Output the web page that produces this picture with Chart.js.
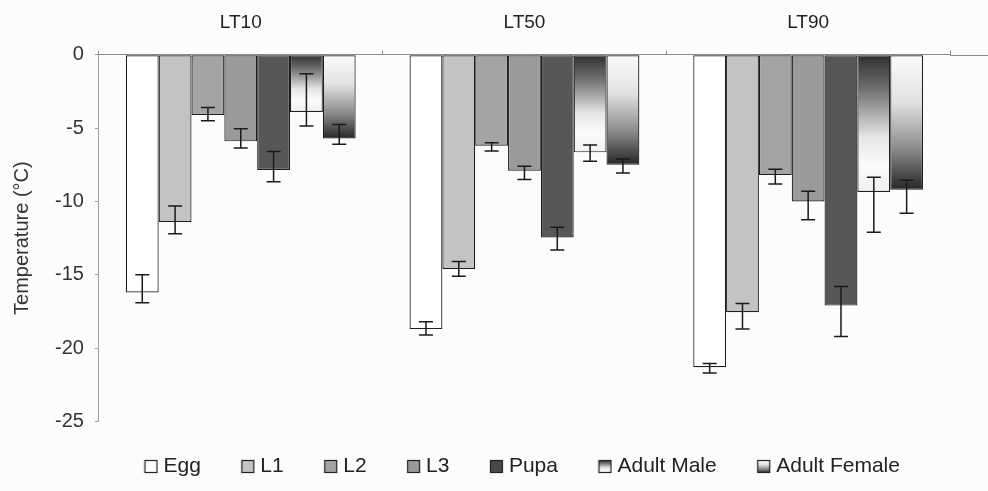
<!DOCTYPE html>
<html>
<head>
<meta charset="utf-8">
<script src="https://cdn.jsdelivr.net/npm/chart.js@4.4.1/dist/chart.umd.min.js"></script>
<style>
  html, body { margin: 0; padding: 0; background: #fcfcfc; }
  #wrap { width: 988px; height: 491px; position: relative; }
</style>
</head>
<body>
<div id="wrap"><canvas id="c" width="988" height="491"></canvas></div>
<script>
// ---- data ----
const categories = ['LT10', 'LT50', 'LT90'];
const stages = ['Egg', 'L1', 'L2', 'L3', 'Pupa', 'Adult Male', 'Adult Female'];
const yTicks = [0, -5, -10, -15, -20, -25];

const egg       = [-16.2, -18.7, -21.3];
const eggHi     = [-15.0, -18.2, -21.05];
const eggLo     = [-16.9, -19.1, -21.7];

const l1        = [-11.4, -14.6, -17.55];
const l1Hi      = [-10.3, -14.1, -16.95];
const l1Lo      = [-12.2, -15.1, -18.7];

const l2        = [-4.1, -6.2, -8.2];
const l2Hi      = [-3.6, -6.0, -7.8];
const l2Lo      = [-4.5, -6.55, -8.8];

const l3        = [-5.9, -7.9, -10.0];
const l3Hi      = [-5.05, -7.6, -9.3];
const l3Lo      = [-6.35, -8.5, -11.25];

const pupa      = [-7.85, -12.45, -17.1];
const pupaHi    = [-6.6, -11.75, -15.8];
const pupaLo    = [-8.65, -13.3, -19.2];

const male      = [-3.9, -6.65, -9.35];
const maleHi    = [-1.3, -6.15, -8.35];
const maleLo    = [-4.85, -7.25, -12.1];

const female    = [-5.7, -7.5, -9.2];
const femaleHi  = [-4.75, -7.1, -8.55];
const femaleLo  = [-6.1, -8.05, -10.8];

const seriesValues = [egg, l1, l2, l3, pupa, male, female];
const seriesHi = [eggHi, l1Hi, l2Hi, l3Hi, pupaHi, maleHi, femaleHi];
const seriesLo = [eggLo, l1Lo, l2Lo, l3Lo, pupaLo, maleLo, femaleLo];

// ---- styles ----
const FONT = '"Liberation Sans", Arial, sans-serif';
const maleStops = [[0, '#2e2e2e'], [0.25, '#707070'], [0.6, '#e6e6e6'], [0.8, '#fbfbfb'], [1, '#f0f0f0']];
const femaleStops = [[0, '#fbfbfb'], [0.35, '#e2e2e2'], [0.7, '#8a8a8a'], [1, '#262626']];

function gradFill(stops, fallback) {
  return (ctx) => {
    const chart = ctx.chart;
    if (!chart.chartArea || ctx.type !== 'data') return fallback;
    const ys = chart.scales.y;
    const v = ctx.dataset.data[ctx.dataIndex];
    const y0 = ys.getPixelForValue(0);
    const y1 = ys.getPixelForValue(v);
    if (!isFinite(y0) || !isFinite(y1) || y1 === y0) return fallback;
    const g = chart.ctx.createLinearGradient(0, y0, 0, y1);
    stops.forEach(s => g.addColorStop(s[0], s[1]));
    return g;
  };
}

const fills = [
  '#ffffff',
  '#c3c3c3',
  '#a4a4a4',
  '#9a9a9a',
  '#575757',
  gradFill(maleStops, '#bdbdbd'),
  gradFill(femaleStops, '#9a9a9a')
];

// legend icons
function makeIcon(fill) {
  const cv = document.createElement('canvas');
  cv.width = 15; cv.height = 15;
  const c = cv.getContext('2d');
  let f = fill;
  if (Array.isArray(fill)) {
    f = c.createLinearGradient(0, 1, 0, 14);
    fill.forEach(s => f.addColorStop(s[0], s[1]));
  }
  c.fillStyle = f;
  c.fillRect(1, 1, 13, 13);
  c.strokeStyle = '#222';
  c.lineWidth = 1.2;
  c.strokeRect(1.5, 1.5, 12, 12);
  return cv;
}
const icons = [
  makeIcon('#ffffff'), makeIcon('#c3c3c3'), makeIcon('#a4a4a4'), makeIcon('#9a9a9a'),
  makeIcon('#4a4a4a'), makeIcon(maleStops), makeIcon(femaleStops)
];

const datasets = stages.map((name, i) => ({
  label: name,
  data: seriesValues[i],
  backgroundColor: fills[i],
  borderColor: '#1e1e1e',
  borderWidth: 1.2,
  borderSkipped: false,
  categoryPercentage: 0.81,
  barPercentage: 1.0
}));

const errorBars = {
  id: 'errorBars',
  afterDatasetsDraw(chart) {
    const ctx = chart.ctx;
    const ys = chart.scales.y;
    ctx.save();
    ctx.strokeStyle = '#1a1a1a';
    ctx.lineWidth = 1.5;
    chart.data.datasets.forEach((ds, i) => {
      const meta = chart.getDatasetMeta(i);
      meta.data.forEach((el, j) => {
        const x = el.x;
        const yh = ys.getPixelForValue(seriesHi[i][j]);
        const yl = ys.getPixelForValue(seriesLo[i][j]);
        const cap = 7;
        ctx.beginPath();
        ctx.moveTo(x, yh); ctx.lineTo(x, yl);
        ctx.moveTo(x - cap, yh); ctx.lineTo(x + cap, yh);
        ctx.moveTo(x - cap, yl); ctx.lineTo(x + cap, yl);
        ctx.stroke();
      });
    });
    ctx.restore();
  }
};

const zeroLineExtend = {
  id: 'zeroLineExtend',
  afterDraw(chart) {
    const ctx = chart.ctx;
    const ca = chart.chartArea;
    ctx.save();
    ctx.strokeStyle = '#8a8a8a';
    ctx.lineWidth = 1;
    ctx.beginPath();
    ctx.moveTo(ca.right, Math.round(ca.top) + 0.5);
    ctx.lineTo(chart.width, Math.round(ca.top) + 0.5);
    ctx.stroke();
    ctx.restore();
  }
};

new Chart(document.getElementById('c'), {
  type: 'bar',
  data: { labels: categories, datasets },
  plugins: [errorBars, zeroLineExtend],
  options: {
    responsive: false,
    animation: false,
    events: [],
    layout: { padding: { top: -6, right: 38, bottom: 4, left: 2 } },
    scales: {
      x: {
        position: 'top',
        offset: true,
        grid: {
          display: true,
          drawOnChartArea: false,
          drawTicks: true,
          tickLength: 4,
          color: '#8a8a8a'
        },
        border: { display: true, color: '#8a8a8a', width: 1 },
        ticks: {
          color: '#222',
          font: { family: FONT, size: 19 },
          padding: 17
        }
      },
      y: {
        min: -25,
        max: 0,
        afterBuildTicks(scale) { scale.ticks = yTicks.map(v => ({ value: v })); },
        grid: {
          display: true,
          drawOnChartArea: false,
          drawTicks: true,
          tickLength: 4,
          color: '#9a9a9a'
        },
        border: { display: true, color: '#a0a0a0', width: 1 },
        ticks: {
          color: '#333',
          font: { family: FONT, size: 20 },
          padding: 11
        },
        title: {
          display: true,
          text: 'Temperature (°C)',
          color: '#333',
          font: { family: FONT, size: 20 },
          padding: { top: 8, bottom: 10 }
        }
      }
    },
    plugins: {
      legend: {
        position: 'bottom',
        fullSize: false,
        title: {
          display: true,
          text: '',
          font: { size: 1, lineHeight: 1 },
          padding: { top: 0, bottom: -11.5 }
        },
        labels: {
          usePointStyle: true,
          pointStyleWidth: 4,
          boxHeight: 15,
          color: '#222',
          font: { family: FONT, size: 21 },
          padding: 45,
          generateLabels(chart) {
            return chart.data.datasets.map((ds, i) => ({
              text: ds.label,
              pointStyle: icons[i],
              datasetIndex: i,
              hidden: false,
              fontColor: '#222',
              lineWidth: 0,
              strokeStyle: 'rgba(0,0,0,0)',
              fillStyle: 'rgba(0,0,0,0)'
            }));
          }
        }
      },
      tooltip: { enabled: false }
    }
  }
});
</script>
</body>
</html>
